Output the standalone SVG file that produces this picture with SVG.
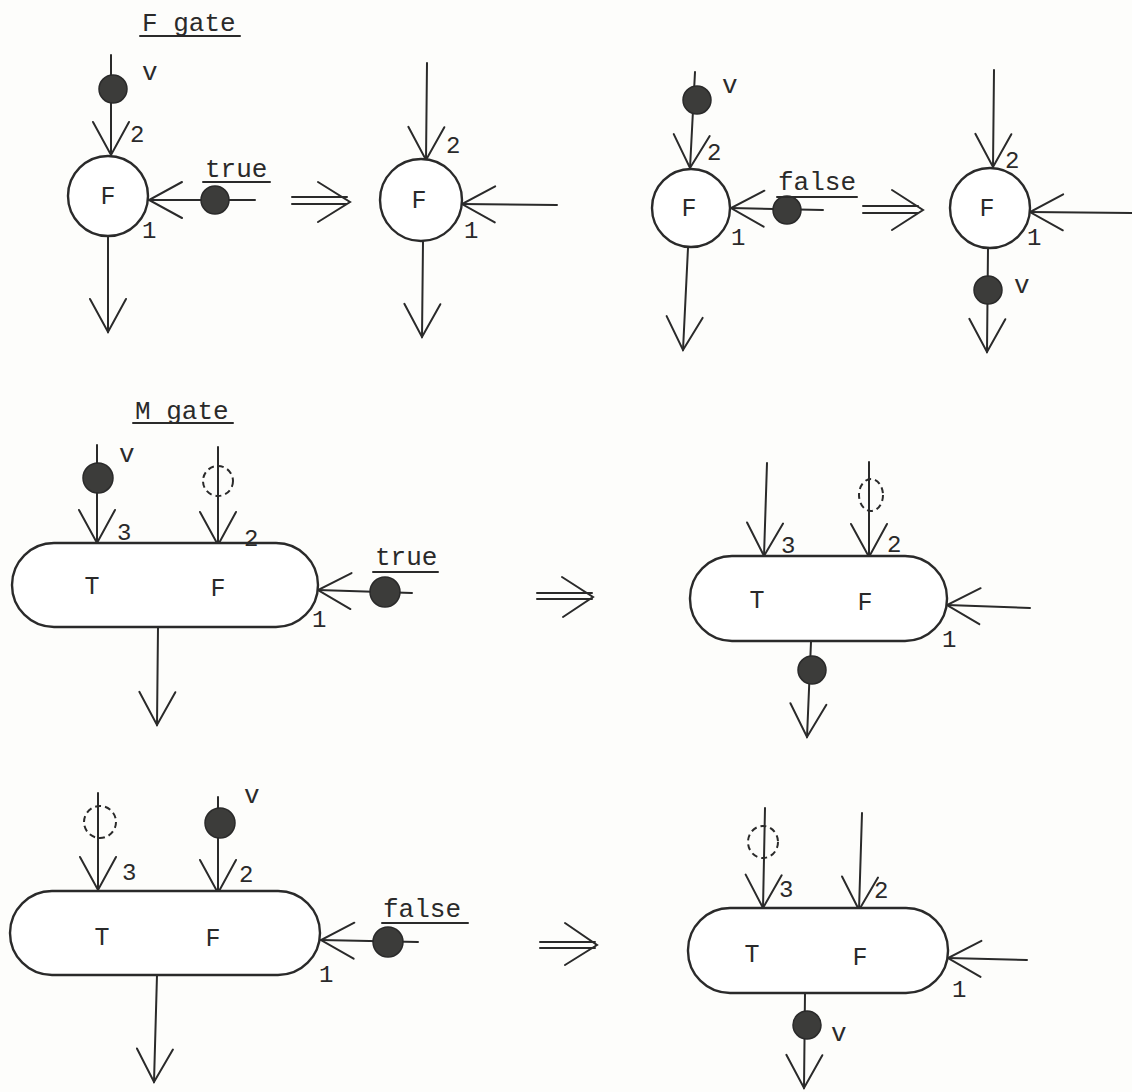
<svg xmlns="http://www.w3.org/2000/svg" width="1132" height="1092" viewBox="0 0 1132 1092">
<style>
.bg{fill:#fdfdfb}
.ln{fill:none;stroke:#2a2a2a;stroke-width:2;stroke-linecap:round}
.arw{fill:none;stroke:#2a2a2a;stroke-width:2;stroke-linecap:round;marker-end:url(#ah)}
.node{fill:#fff;stroke:#2a2a2a;stroke-width:2.4}
.tok{fill:#3c3c3a;stroke:#2a2a2a;stroke-width:1.5}
.hole{fill:none;stroke:#2a2a2a;stroke-width:2;stroke-dasharray:6 4}
.lbl{font-family:"Liberation Mono","DejaVu Sans Mono",monospace;font-size:26px;fill:#2a2a2a}
.in{font-family:"Liberation Mono","DejaVu Sans Mono",monospace;font-size:25px;fill:#2a2a2a;text-anchor:middle}
.num{font-family:"Liberation Mono","DejaVu Sans Mono",monospace;font-size:24px;fill:#2a2a2a}
</style>
<defs>
<marker id="ah" viewBox="-35 -20 38 40" refX="0" refY="0" markerWidth="38" markerHeight="40" markerUnits="userSpaceOnUse" orient="auto">
<path d="M-33,-18 L0,0 L-33,18" fill="none" stroke="#2a2a2a" stroke-width="2" stroke-linecap="round"/>
</marker>
</defs>
<rect class="bg" x="0" y="0" width="1132" height="1092"/>

<g id="titles">
<text class="lbl" x="142" y="31">F gate</text>
<line class="ln" x1="140" y1="36" x2="240" y2="36"/>
<text class="lbl" x="135" y="419">M gate</text>
<line class="ln" x1="133" y1="423" x2="233" y2="423"/>
</g>

<g id="connectors">
<line class="arw" x1="111" y1="55" x2="111" y2="155"/>
<line class="arw" x1="255" y1="200" x2="149" y2="200"/>
<line class="arw" x1="108" y1="237" x2="108" y2="332"/>
<line class="arw" x1="427" y1="63" x2="426" y2="160"/>
<line class="arw" x1="557" y1="205" x2="462" y2="204"/>
<line class="arw" x1="423" y1="242" x2="422" y2="337"/>
<line class="arw" x1="695" y1="72" x2="690" y2="168"/>
<line class="arw" x1="823" y1="210" x2="731" y2="208"/>
<line class="arw" x1="688" y1="248" x2="683" y2="350"/>
<line class="arw" x1="994" y1="70" x2="993" y2="167"/>
<line class="arw" x1="1132" y1="213" x2="1030" y2="212"/>
<line class="arw" x1="988" y1="248" x2="987" y2="352"/>
<line class="arw" x1="97" y1="445" x2="97" y2="543"/>
<line class="arw" x1="218" y1="447" x2="218" y2="545"/>
<line class="arw" x1="412" y1="593" x2="318" y2="590"/>
<line class="arw" x1="158" y1="627" x2="157" y2="725"/>
<line class="arw" x1="767" y1="463" x2="764" y2="556"/>
<line class="arw" x1="869" y1="462" x2="869" y2="557"/>
<line class="arw" x1="1030" y1="608" x2="947" y2="605"/>
<line class="arw" x1="811" y1="642" x2="807" y2="737"/>
<line class="arw" x1="98" y1="793" x2="98" y2="890"/>
<line class="arw" x1="218" y1="797" x2="218" y2="893"/>
<line class="arw" x1="418" y1="942" x2="321" y2="940"/>
<line class="arw" x1="157" y1="975" x2="154" y2="1082"/>
<line class="arw" x1="765" y1="808" x2="763" y2="908"/>
<line class="arw" x1="862" y1="813" x2="859" y2="910"/>
<line class="arw" x1="1027" y1="960" x2="948" y2="958"/>
<line class="arw" x1="805" y1="993" x2="804" y2="1088"/>
</g>

<g id="transitions">
<path class="ln" d="M292,197 H347 M292,204 H347 M318,182 L350,202 L318,222"/>
<path class="ln" d="M863,206 H918 M863,213 H918 M892,190 L923,210 L892,230"/>
<path class="ln" d="M537,593 H592 M537,599 H592 M562,577 L593,597 L563,617"/>
<path class="ln" d="M540,942 H595 M540,948 H595 M565,923 L597,945 L565,965"/>
</g>

<g id="f-true-before">
<circle class="node" cx="108" cy="196" r="40"/>
<text class="in" x="108" y="204">F</text>
<text class="num" x="130" y="142">2</text>
<text class="num" x="142" y="238">1</text>
<circle class="tok" cx="113" cy="89" r="14"/>
<text class="lbl" x="142" y="80">v</text>
<circle class="tok" cx="215" cy="200" r="14"/>
<text class="lbl" x="205" y="177">true</text>
<line class="ln" x1="203" y1="182" x2="270" y2="182"/>
</g>

<g id="f-true-after">
<circle class="node" cx="421" cy="200" r="41"/>
<text class="in" x="419" y="208">F</text>
<text class="num" x="446" y="153">2</text>
<text class="num" x="464" y="238">1</text>
</g>

<g id="f-false-before">
<circle class="node" cx="691" cy="208" r="39"/>
<text class="in" x="689" y="216">F</text>
<text class="num" x="707" y="160">2</text>
<text class="num" x="731" y="245">1</text>
<circle class="tok" cx="697" cy="100" r="14"/>
<text class="lbl" x="722" y="93">v</text>
<circle class="tok" cx="787" cy="210" r="14"/>
<text class="lbl" x="778" y="190">false</text>
<line class="ln" x1="777" y1="197" x2="857" y2="197"/>
</g>

<g id="f-false-after">
<circle class="node" cx="990" cy="208" r="40"/>
<text class="in" x="987" y="216">F</text>
<text class="num" x="1005" y="168">2</text>
<text class="num" x="1027" y="245">1</text>
<circle class="tok" cx="988" cy="290" r="14"/>
<text class="lbl" x="1014" y="293">v</text>
</g>

<g id="m-true-before">
<rect class="node" x="12" y="543" width="306" height="84" rx="42"/>
<text class="in" x="92" y="594">T</text>
<text class="in" x="218" y="596">F</text>
<text class="num" x="117" y="540">3</text>
<text class="num" x="244" y="546">2</text>
<text class="num" x="312" y="627">1</text>
<circle class="tok" cx="98" cy="478" r="15"/>
<text class="lbl" x="119" y="462">v</text>
<circle class="hole" cx="218" cy="481" r="15"/>
<circle class="tok" cx="385" cy="592" r="15"/>
<text class="lbl" x="375" y="565">true</text>
<line class="ln" x1="373" y1="572" x2="438" y2="572"/>
</g>

<g id="m-true-after">
<rect class="node" x="690" y="556" width="257" height="85" rx="42"/>
<text class="in" x="757" y="608">T</text>
<text class="in" x="865" y="610">F</text>
<text class="num" x="781" y="553">3</text>
<text class="num" x="887" y="552">2</text>
<text class="num" x="942" y="647">1</text>
<ellipse class="hole" cx="871" cy="495" rx="12" ry="16"/>
<circle class="tok" cx="812" cy="670" r="14"/>
</g>

<g id="m-false-before">
<rect class="node" x="10" y="891" width="310" height="84" rx="42"/>
<text class="in" x="102" y="945">T</text>
<text class="in" x="213" y="946">F</text>
<text class="num" x="122" y="880">3</text>
<text class="num" x="239" y="882">2</text>
<text class="num" x="319" y="982">1</text>
<circle class="hole" cx="100" cy="822" r="16"/>
<circle class="tok" cx="220" cy="823" r="15"/>
<text class="lbl" x="244" y="803">v</text>
<circle class="tok" cx="388" cy="942" r="15"/>
<text class="lbl" x="383" y="917">false</text>
<line class="ln" x1="382" y1="923" x2="468" y2="923"/>
</g>

<g id="m-false-after">
<rect class="node" x="688" y="908" width="260" height="85" rx="42"/>
<text class="in" x="752" y="962">T</text>
<text class="in" x="860" y="965">F</text>
<text class="num" x="779" y="897">3</text>
<text class="num" x="874" y="898">2</text>
<text class="num" x="952" y="997">1</text>
<ellipse class="hole" cx="763" cy="842" rx="15" ry="16"/>
<circle class="tok" cx="807" cy="1025" r="14"/>
<text class="lbl" x="831" y="1041">v</text>
</g>
</svg>
